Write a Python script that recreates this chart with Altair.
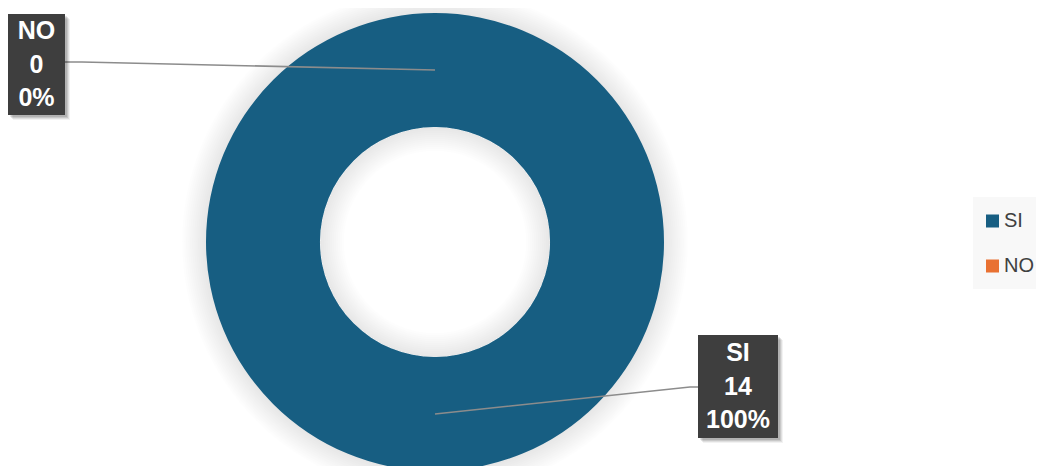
import altair as alt
import pandas as pd
import numpy as np

# ---- data ----
categories = ["SI", "NO"]
counts = [14, 0]
percents = ["100%", "0%"]
colors = ["#175E82", "#E97132"]

# ---- layout (plot-area pixels) ----
W, H = 1028, 458
CX, CY = 427, 234
R_OUT, R_IN = 229, 115
R_MID = (R_OUT + R_IN) / 2
FONT = "Liberation Sans"

label_box = {"SI": (690, 327, 770, 430), "NO": (0, 6, 57, 107)}
label_elbow = {"SI": [(682, 379), (690, 379)], "NO": [(74, 54), (57, 54)]}
legend_bg = (965, 189, 1040, 281)
legend_sym_x, legend_txt_x = 984.5, 996
legend_rows_y = {"SI": 213, "NO": 258}

data = pd.DataFrame({"cat": categories, "value": counts, "pct": percents,
                     "idx": list(range(len(categories)))})
color_scale = alt.Scale(domain=categories, range=colors)
base = alt.Chart(data)

# ---- soft shadows around the ring ----
layers = []
for k in range(1, 13):
    layers.append(base.mark_arc(x=CX, y=CY, radius=R_OUT + 2 * k, radius2=R_OUT - 1,
                                color="#000000", opacity=0.009, strokeWidth=0)
                  .encode(theta=alt.Theta("value:Q", stack=True)))

donut = base.mark_arc(x=CX, y=CY, radius=R_OUT, radius2=R_IN, strokeWidth=0).encode(
    theta=alt.Theta("value:Q", stack=True),
    color=alt.Color("cat:N", scale=color_scale, legend=None),
    order=alt.Order("idx:Q"),
)
layers.append(donut)

for k in range(1, 13):
    layers.append(base.mark_arc(x=CX, y=CY, radius=R_IN, radius2=max(R_IN - 2 * k, 0),
                                color="#000000", opacity=0.009, strokeWidth=0)
                  .encode(theta=alt.Theta("value:Q", stack=True)))

# ---- leader lines, anchored at each slice's middle ----
total = sum(counts)
cum = np.cumsum([0] + counts)
rows = []
for i, c in enumerate(categories):
    f = (cum[i] + cum[i + 1]) / 2 / total
    ax = CX + R_MID * np.sin(2 * np.pi * f)
    ay = CY - R_MID * np.cos(2 * np.pi * f)
    pts = [(ax, ay)] + label_elbow[c]
    for s, (px, py) in enumerate(pts):
        rows.append({"cat": c, "step": s, "x": px, "y": py})
leader_df = pd.DataFrame(rows)
leaders = alt.Chart(leader_df).mark_line(color="#8C8C8C", strokeWidth=1.6).encode(
    x=alt.X("x:Q", scale=None), y=alt.Y("y:Q", scale=None),
    detail="cat:N", order="step:Q")
layers.append(leaders)

# ---- label boxes ----
box_df = pd.DataFrame([{"cat": c, "x": label_box[c][0], "y": label_box[c][1],
                        "x2": label_box[c][2], "y2": label_box[c][3]} for c in categories])
for off, op in [(2, 0.10), (3, 0.10), (4, 0.08), (5, 0.05)]:
    layers.append(alt.Chart(box_df).mark_rect(color="#000000", opacity=op).encode(
        x=alt.X("sx:Q", scale=None), x2="sx2:Q", y=alt.Y("sy:Q", scale=None), y2="sy2:Q"
    ).transform_calculate(sx=f"datum.x + {off}", sx2=f"datum.x2 + {off}",
                          sy=f"datum.y + {off}", sy2=f"datum.y2 + {off}"))
layers.append(alt.Chart(box_df).mark_rect(color="#3E3E3E").encode(
    x=alt.X("x:Q", scale=None), x2="x2:Q", y=alt.Y("y:Q", scale=None), y2="y2:Q"))

trows = []
for c, v, p in zip(categories, counts, percents):
    x0, y0, x1, y1 = label_box[c]
    cx, cy = (x0 + x1) / 2, (y0 + y1) / 2
    for j, t in enumerate([c, str(v), p]):
        trows.append({"cat": c, "t": t, "x": cx, "y": cy + (j - 1) * 33.5})
text_df = pd.DataFrame(trows)
layers.append(alt.Chart(text_df).mark_text(color="white", fontSize=25, fontWeight="bold",
                                           font=FONT, align="center", baseline="middle").encode(
    x=alt.X("x:Q", scale=None), y=alt.Y("y:Q", scale=None), text="t:N"))

# ---- legend ----
leg_bg = pd.DataFrame([{"x": legend_bg[0], "y": legend_bg[1], "x2": legend_bg[2], "y2": legend_bg[3]}])
layers.append(alt.Chart(leg_bg).mark_rect(color="#F8F8F8").encode(
    x=alt.X("x:Q", scale=None), x2="x2:Q", y=alt.Y("y:Q", scale=None), y2="y2:Q"))
leg_df = pd.DataFrame({"cat": categories,
                       "sx": [legend_sym_x] * len(categories),
                       "tx": [legend_txt_x] * len(categories),
                       "y": [legend_rows_y[c] for c in categories]})
layers.append(alt.Chart(leg_df).mark_square(size=169, opacity=1).encode(
    x=alt.X("sx:Q", scale=None), y=alt.Y("y:Q", scale=None),
    color=alt.Color("cat:N", scale=color_scale, legend=None)))
layers.append(alt.Chart(leg_df).mark_text(fontSize=20, font=FONT, color="#404040",
                                          align="left", baseline="middle").encode(
    x=alt.X("tx:Q", scale=None), y=alt.Y("y:Q", scale=None), text="cat:N"))

chart = alt.layer(*layers).properties(
    width=W, height=H, padding=0,
    autosize=alt.AutoSizeParams(type="none"),
).configure_view(stroke=None)
chart.save("out.html", embed_options={"renderer": "svg", "actions": False})
